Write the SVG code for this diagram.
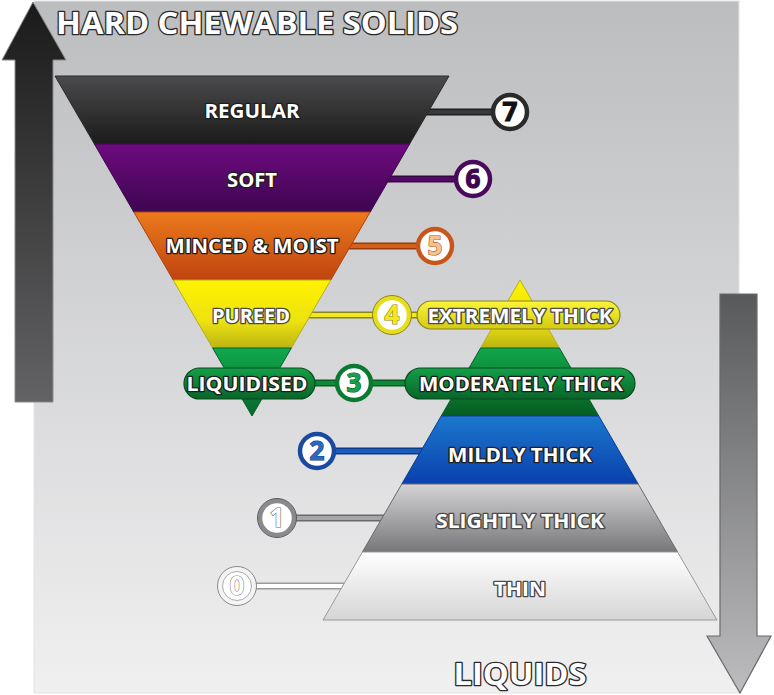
<svg xmlns="http://www.w3.org/2000/svg" width="774" height="695" viewBox="0 0 774 695">
<defs>
<linearGradient id="gBg" x1="0" y1="0" x2="0" y2="1"><stop offset="0" stop-color="#bcbdbf"/><stop offset="1" stop-color="#f0f0f1"/></linearGradient>
<linearGradient id="gUp" x1="0" y1="0" x2="0" y2="1"><stop offset="0" stop-color="#1a1a1a"/><stop offset="1" stop-color="#636365"/></linearGradient>
<linearGradient id="gDown" x1="0" y1="0" x2="0" y2="1"><stop offset="0" stop-color="#58595b"/><stop offset="1" stop-color="#bdbdbf"/></linearGradient>
<linearGradient id="gReg" x1="0" y1="0" x2="0" y2="1"><stop offset="0" stop-color="#4b4b4d"/><stop offset="1" stop-color="#1b1b1b"/></linearGradient>
<linearGradient id="gSoft" x1="0" y1="0" x2="0" y2="1"><stop offset="0" stop-color="#6e0a80"/><stop offset="1" stop-color="#3e0650"/></linearGradient>
<linearGradient id="gMin" x1="0" y1="0" x2="0" y2="1"><stop offset="0" stop-color="#ec7a1c"/><stop offset="1" stop-color="#bf4410"/></linearGradient>
<linearGradient id="gPur" x1="0" y1="0" x2="0" y2="1"><stop offset="0" stop-color="#fff200"/><stop offset="0.6" stop-color="#ede310"/><stop offset="1" stop-color="#bdb414"/></linearGradient>
<linearGradient id="gLiq" x1="0" y1="0" x2="0" y2="1"><stop offset="0" stop-color="#10a94c"/><stop offset="1" stop-color="#07662a"/></linearGradient>
<linearGradient id="gMod" x1="0" y1="0" x2="0" y2="1"><stop offset="0" stop-color="#12a64a"/><stop offset="1" stop-color="#075c22"/></linearGradient>
<linearGradient id="gMild" x1="0" y1="0" x2="0" y2="1"><stop offset="0" stop-color="#1b78cc"/><stop offset="1" stop-color="#0a40ae"/></linearGradient>
<linearGradient id="gSli" x1="0" y1="0" x2="0" y2="1"><stop offset="0" stop-color="#d4d4d5"/><stop offset="1" stop-color="#77777a"/></linearGradient>
<linearGradient id="gThin" x1="0" y1="0" x2="0" y2="1"><stop offset="0" stop-color="#ffffff"/><stop offset="1" stop-color="#d5d5d6"/></linearGradient>
<linearGradient id="gPillY" x1="0" y1="0" x2="0" y2="1"><stop offset="0" stop-color="#fbf43a"/><stop offset="1" stop-color="#d4cb10"/></linearGradient>
<linearGradient id="gPillG" x1="0" y1="0" x2="0" y2="1"><stop offset="0" stop-color="#13a047"/><stop offset="1" stop-color="#08652a"/></linearGradient>
</defs>
<style>
.lbl{font-family:"Open Sans","Liberation Sans",sans-serif;font-weight:700;font-size:19px;fill:#fff;stroke:#1e1e1e;stroke-width:2.6px;paint-order:stroke;text-anchor:middle;stroke-linejoin:round}
.lbl2{stroke:#4a4a4a}
.big{font-family:"Open Sans","Liberation Sans",sans-serif;font-weight:700;font-size:31px;fill:#fff;stroke:#2a2a2a;stroke-width:2.6px;paint-order:stroke;text-anchor:middle;stroke-linejoin:round}
.num{font-family:"Open Sans","Liberation Sans",sans-serif;font-weight:700;font-size:26px;text-anchor:middle;stroke-width:1.2px;paint-order:stroke}
.band{stroke-width:1}
.ring{fill:#fff;stroke-width:4.5}
</style>

<g id="background">
<rect x="34" y="1" width="705" height="692" fill="url(#gBg)" stroke="#e4e4e5" stroke-width="1"/>
</g>

<g id="arrow-up">
<path d="M33,2 L66,60 L53,60 L53,402 L15,402 L15,60 L2,60 Z" fill="url(#gUp)" stroke="#8a8a8c" stroke-width="1"/>
</g>
<g id="arrow-down">
<path d="M720,294 L757,294 L757,636 L771,636 L740,693 L707,636 L720,636 Z" fill="url(#gDown)" stroke="#6a6a6c" stroke-width="1.2"/>
</g>

<g id="title">
<text class="big" x="257" y="34" textLength="402" lengthAdjust="spacingAndGlyphs">HARD CHEWABLE SOLIDS</text>
<text class="big" x="520" y="685" textLength="133" lengthAdjust="spacingAndGlyphs">LIQUIDS</text>
</g>

<g id="connectors" fill="none" stroke-linecap="butt">
<line x1="420" y1="112" x2="505" y2="112" stroke="#1e1e1e" stroke-width="7"/>
<line x1="420" y1="112" x2="505" y2="112" stroke="#3a3a3c" stroke-width="4"/>
<line x1="380" y1="179" x2="470" y2="179" stroke="#32083e" stroke-width="7"/>
<line x1="380" y1="179" x2="470" y2="179" stroke="#520a66" stroke-width="4"/>
<line x1="342" y1="246" x2="430" y2="246" stroke="#9a3a0c" stroke-width="7"/>
<line x1="342" y1="246" x2="430" y2="246" stroke="#d2621a" stroke-width="4"/>
<line x1="300" y1="315" x2="430" y2="315" stroke="#8a8420" stroke-width="7"/>
<line x1="300" y1="315" x2="430" y2="315" stroke="#f2ea18" stroke-width="4"/>
<line x1="300" y1="383" x2="420" y2="383" stroke="#0a5a22" stroke-width="7"/>
<line x1="300" y1="383" x2="420" y2="383" stroke="#0f8a3a" stroke-width="4"/>
<line x1="320" y1="451" x2="430" y2="451" stroke="#0c3a8a" stroke-width="7"/>
<line x1="320" y1="451" x2="430" y2="451" stroke="#1c5cbc" stroke-width="4"/>
<line x1="280" y1="518" x2="392" y2="518" stroke="#6a6a6c" stroke-width="7"/>
<line x1="280" y1="518" x2="392" y2="518" stroke="#a6a6a8" stroke-width="4"/>
<line x1="240" y1="586" x2="352" y2="586" stroke="#9a9a9c" stroke-width="7"/>
<line x1="240" y1="586" x2="352" y2="586" stroke="#ffffff" stroke-width="4"/>
</g>

<g id="food-7-regular">
<polygon class="band" points="55,76 449,76 409.6,144 94.4,144" fill="url(#gReg)" stroke="#2a2a2a"/>
<text class="lbl" x="252" y="118" textLength="95" lengthAdjust="spacingAndGlyphs">REGULAR</text>
</g>
<g id="food-6-soft">
<polygon class="band" points="94.4,144 409.6,144 370.2,212 133.8,212" fill="url(#gSoft)" stroke="#3a0648"/>
<text class="lbl" x="252" y="187" textLength="50" lengthAdjust="spacingAndGlyphs">SOFT</text>
</g>
<g id="food-5-minced-moist">
<polygon class="band" points="133.8,212 370.2,212 330.8,280 173.2,280" fill="url(#gMin)" stroke="#b04010"/>
<text class="lbl" x="252" y="253" textLength="173" lengthAdjust="spacingAndGlyphs">MINCED &amp; MOIST</text>
</g>
<g id="food-4-pureed">
<polygon class="band" points="173.2,280 330.8,280 291.4,348 212.6,348" fill="url(#gPur)" stroke="#b5ad20"/>
<text class="lbl lbl2" x="251" y="323" textLength="78" lengthAdjust="spacingAndGlyphs">PUREED</text>
</g>
<g id="food-3-liquidised">
<polygon class="band" points="212.6,348 291.4,348 252,416" fill="url(#gLiq)" stroke="#07602a"/>
<rect x="184" y="368" width="131" height="31" rx="15.5" fill="url(#gPillG)" stroke="#0a4a1c" stroke-width="1.2"/>
<text class="lbl" x="247" y="391" textLength="121" lengthAdjust="spacingAndGlyphs">LIQUIDISED</text>
</g>

<g id="drink-4-extremely-thick">
<polygon class="band" points="520,280 559.4,348 480.6,348" fill="url(#gPur)" stroke="#b5ad20"/>
<rect x="417" y="301" width="203" height="28" rx="14" fill="url(#gPillY)" stroke="#8a8420" stroke-width="1.2"/>
<text class="lbl lbl2" x="520" y="323" textLength="185" lengthAdjust="spacingAndGlyphs">EXTREMELY THICK</text>
</g>
<g id="drink-3-moderately-thick">
<polygon class="band" points="480.6,348 559.4,348 598.8,416 441.2,416" fill="url(#gMod)" stroke="#07602a"/>
<rect x="405" y="368" width="230" height="31" rx="15.5" fill="url(#gPillG)" stroke="#0a4a1c" stroke-width="1.2"/>
<text class="lbl" x="521" y="391" textLength="204" lengthAdjust="spacingAndGlyphs">MODERATELY THICK</text>
</g>
<g id="drink-2-mildly-thick">
<polygon class="band" points="441.2,416 598.8,416 638.2,484 401.8,484" fill="url(#gMild)" stroke="#0a3a9a"/>
<text class="lbl" x="520" y="462" textLength="144" lengthAdjust="spacingAndGlyphs">MILDLY THICK</text>
</g>
<g id="drink-1-slightly-thick">
<polygon class="band" points="401.8,484 638.2,484 677.6,552 362.4,552" fill="url(#gSli)" stroke="#6a6a6c"/>
<text class="lbl lbl2" x="520" y="528" textLength="168" lengthAdjust="spacingAndGlyphs">SLIGHTLY THICK</text>
</g>
<g id="drink-0-thin">
<polygon class="band" points="362.4,552 677.6,552 717,620 323,620" fill="url(#gThin)" stroke="#9a9a9c"/>
<text class="lbl lbl2" x="520" y="596" textLength="52" lengthAdjust="spacingAndGlyphs">THIN</text>
</g>

<g id="badge-7">
<circle class="ring" cx="510" cy="112" r="17" stroke="#2a2a2a"/>
<text class="num" x="510" y="121" fill="#111" stroke="#111">7</text>
</g>
<g id="badge-6">
<circle class="ring" cx="473" cy="179" r="17" stroke="#4a0a5c"/>
<text class="num" x="473" y="188" fill="#3e0650" stroke="#3e0650">6</text>
</g>
<g id="badge-5">
<circle class="ring" cx="435" cy="246" r="17" stroke="#c8561a"/>
<text class="num" x="435" y="255" fill="#f4c28e" stroke="#c05010">5</text>
</g>
<g id="badge-4">
<circle class="ring" cx="392" cy="315" r="17" stroke="#e6de16"/>
<circle cx="392" cy="315" r="19.5" fill="none" stroke="#8a8420" stroke-width="1"/>
<text class="num" x="392" y="324" fill="#f2ea18" stroke="#8a8420">4</text>
</g>
<g id="badge-3">
<circle class="ring" cx="354" cy="383" r="17" stroke="#0a7a30"/>
<text class="num" x="354" y="392" fill="#1aa04c" stroke="#0a5a22">3</text>
</g>
<g id="badge-2">
<circle class="ring" cx="317" cy="451" r="17" stroke="#1a4aa0"/>
<text class="num" x="317" y="460" fill="#2a6ac0" stroke="#0c3a8a">2</text>
</g>
<g id="badge-1">
<circle class="ring" cx="277" cy="518" r="17" stroke="#8a8a8c"/>
<circle cx="277" cy="518" r="19.5" fill="none" stroke="#5a5a5c" stroke-width="1"/>
<text class="num" x="277" y="527" fill="#fff" stroke="#6a6a6c">1</text>
</g>
<g id="badge-0">
<circle class="ring" cx="237" cy="586" r="17" stroke="#f4f4f4"/>
<circle cx="237" cy="586" r="19.5" fill="none" stroke="#8a8a8c" stroke-width="1"/>
<circle cx="237" cy="586" r="14.5" fill="none" stroke="#aaaaac" stroke-width="1"/>
<text class="num" x="237" y="595" fill="#fff" stroke="#8a8a8c">0</text>
</g>
</svg>
